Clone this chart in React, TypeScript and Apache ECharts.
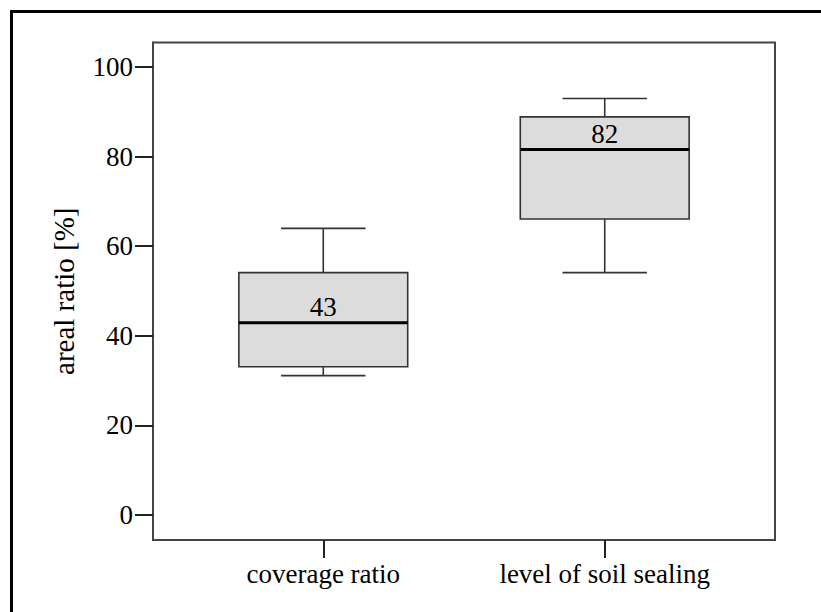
import React, { useEffect, useRef } from "react";
import * as echarts from "echarts";

const categories = ["coverage ratio", "level of soil sealing"];
const whiskerLow = [31.1, 54.1];
const quartile1 = [33.1, 66.1];
const medians = [42.9, 81.6];
const quartile3 = [54.1, 88.9];
const whiskerHigh = [64.0, 93.0];
const yTicks = [0, 20, 40, 60, 80, 100];
const xPositions = [1, 2];

const FONT = "'Liberation Serif', 'Times New Roman', 'DejaVu Serif', serif";

export default function App() {
  const ref = useRef<HTMLDivElement>(null);
  useEffect(() => {
    document.body.style.margin = "0";
    const chart = echarts.init(ref.current!, null, { renderer: "svg" });
    const data = categories.map((_, i) => [
      xPositions[i],
      whiskerLow[i],
      quartile1[i],
      medians[i],
      quartile3[i],
      whiskerHigh[i],
    ]);
    chart.setOption({
      animation: false,
      backgroundColor: "#ffffff",
      textStyle: { fontFamily: FONT },
      grid: {
        left: 153,
        right: 46,
        top: 42.5,
        bottom: 72,
        show: true,
        borderColor: "#444",
        borderWidth: 2,
        backgroundColor: "transparent",
      },
      graphic: [
        {
          type: "rect",
          shape: { x: 11.5, y: 11.5, width: 900, height: 700 },
          style: { fill: "none", stroke: "#000", lineWidth: 3 },
          silent: true,
        },
      ],
      xAxis: {
        type: "value",
        min: 0.395,
        max: 2.605,
        splitLine: { show: false },
        axisLine: { show: true, onZero: false, lineStyle: { color: "#444", width: 2 } },
        axisTick: {
          show: true,
          length: 18,
          customValues: xPositions,
          lineStyle: { color: "#222", width: 2 },
        },
        axisLabel: {
          customValues: xPositions,
          margin: 20,
          color: "#000",
          fontSize: 27,
          fontFamily: FONT,
          formatter: (v: number) => categories[Math.round(v) - 1] ?? "",
        },
      },
      yAxis: {
        type: "value",
        min: -5.6,
        max: 105.5,
        name: "areal ratio [%]",
        nameLocation: "middle",
        nameGap: 75,
        nameRotate: 90,
        nameTextStyle: { color: "#000", fontSize: 29, fontFamily: FONT },
        splitLine: { show: false },
        axisLine: { show: true, onZero: false, lineStyle: { color: "#444", width: 2 } },
        axisTick: {
          show: true,
          length: 18,
          customValues: yTicks,
          lineStyle: { color: "#222", width: 2 },
        },
        axisLabel: {
          customValues: yTicks,
          margin: 20,
          color: "#000",
          fontSize: 27,
          fontFamily: FONT,
        },
      },
      series: [
        {
          type: "custom",
          data,
          encode: { x: 0, y: [1, 2, 3, 4, 5] },
          renderItem: (params: any, api: any) => {
            const x = api.value(0);
            const lo = api.coord([x, api.value(1)]);
            const q1 = api.coord([x, api.value(2)]);
            const med = api.coord([x, api.value(3)]);
            const q3 = api.coord([x, api.value(4)]);
            const hi = api.coord([x, api.value(5)]);
            const bw = api.size([0.6, 0])[0];
            const cw = api.size([0.3, 0])[0];
            const cx = lo[0];
            const lineStyle = { stroke: "#333", lineWidth: 1.6 };
            return {
              type: "group",
              children: [
                {
                  type: "line",
                  shape: { x1: cx, y1: q3[1], x2: cx, y2: hi[1] },
                  style: lineStyle,
                },
                {
                  type: "line",
                  shape: { x1: cx - cw / 2, y1: hi[1], x2: cx + cw / 2, y2: hi[1] },
                  style: lineStyle,
                },
                {
                  type: "line",
                  shape: { x1: cx, y1: q1[1], x2: cx, y2: lo[1] },
                  style: lineStyle,
                },
                {
                  type: "line",
                  shape: { x1: cx - cw / 2, y1: lo[1], x2: cx + cw / 2, y2: lo[1] },
                  style: lineStyle,
                },
                {
                  type: "rect",
                  shape: { x: cx - bw / 2, y: q3[1], width: bw, height: q1[1] - q3[1] },
                  style: { fill: "#dcdcdc", stroke: "#333", lineWidth: 1.6 },
                },
                {
                  type: "line",
                  shape: { x1: cx - bw / 2, y1: med[1], x2: cx + bw / 2, y2: med[1] },
                  style: { stroke: "#000", lineWidth: 3 },
                },
                {
                  type: "text",
                  x: cx,
                  y: med[1] - 16,
                  style: {
                    text: String(Math.round(api.value(3))),
                    fill: "#000",
                    fontSize: 27,
                    fontFamily: FONT,
                    align: "center",
                    verticalAlign: "middle",
                  },
                },
              ],
            };
          },
        },
      ],
    });
    return () => chart.dispose();
  }, []);
  return <div ref={ref} style={{ width: 821, height: 612 }} />;
}
